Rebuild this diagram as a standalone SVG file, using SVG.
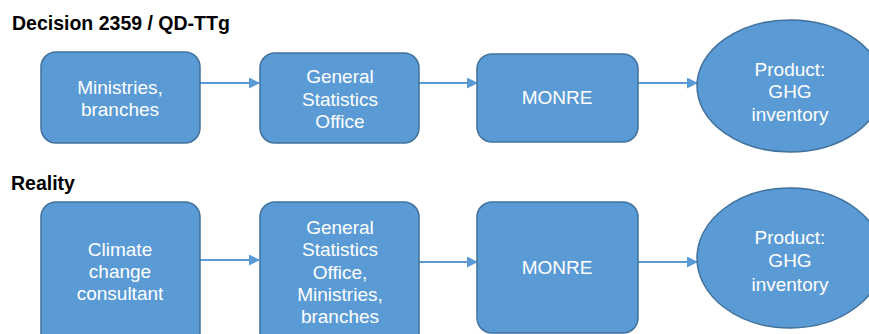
<svg xmlns="http://www.w3.org/2000/svg" width="869" height="334" viewBox="0 0 869 334">
<defs>
<style>
.box{fill:#5B9BD5;stroke:#41719C;stroke-width:1.5}
.t{fill:#fff;font-family:"Liberation Sans",Arial,sans-serif;font-size:19px;text-anchor:middle}
.h{fill:#000;font-family:"Liberation Sans",Arial,sans-serif;font-size:19.5px;font-weight:bold}
.c{stroke:#5B9BD5;stroke-width:2;fill:none;marker-end:url(#ah)}
</style>
<marker id="ah" markerWidth="11" markerHeight="11" refX="10" refY="5.5" orient="auto" markerUnits="userSpaceOnUse">
<path d="M0,0 L11,5.5 L0,11 z" fill="#5B9BD5"/>
</marker>
</defs>
<rect width="869" height="334" fill="#fff"/>
<text class="h" x="12" y="30">Decision 2359 / QD-TTg</text>
<text class="h" x="11" y="190">Reality</text>
<g id="connectors">
<line class="c" x1="200" y1="83" x2="259" y2="83"/>
<line class="c" x1="419" y1="83" x2="477" y2="83"/>
<line class="c" x1="638" y1="83" x2="697" y2="83"/>
<line class="c" x1="200" y1="260" x2="259" y2="260"/>
<line class="c" x1="419" y1="262" x2="477" y2="262"/>
<line class="c" x1="638" y1="262" x2="697" y2="262"/>
</g>
<g id="n1"><rect class="box" x="41" y="52" width="159" height="91" rx="15"/>
<text class="t" x="120" y="94">Ministries,</text><text class="t" x="120" y="116">branches</text></g>
<g id="n2"><rect class="box" x="260" y="53" width="159" height="90" rx="15"/>
<text class="t" x="340" y="83">General</text><text class="t" x="340" y="106">Statistics</text><text class="t" x="340" y="128">Office</text></g>
<g id="n3"><rect class="box" x="477" y="54" width="161" height="88" rx="15"/>
<text class="t" x="557" y="104">MONRE</text></g>
<g id="n4"><ellipse class="box" cx="790" cy="86" rx="93" ry="66"/>
<text class="t" x="790" y="76">Product:</text><text class="t" x="790" y="98">GHG</text><text class="t" x="790" y="121">inventory</text></g>
<g id="n5"><rect class="box" x="41" y="202" width="159" height="150" rx="15"/>
<text class="t" x="120" y="256">Climate</text><text class="t" x="120" y="278">change</text><text class="t" x="120" y="300">consultant</text></g>
<g id="n6"><rect class="box" x="260" y="202" width="159" height="150" rx="15"/>
<text class="t" x="340" y="234">General</text><text class="t" x="340" y="256">Statistics</text><text class="t" x="340" y="279">Office,</text><text class="t" x="340" y="301">Ministries,</text><text class="t" x="340" y="323">branches</text></g>
<g id="n7"><rect class="box" x="477" y="202" width="161" height="131" rx="15"/>
<text class="t" x="557" y="274">MONRE</text></g>
<g id="n8"><ellipse class="box" cx="790" cy="258" rx="93" ry="70"/>
<text class="t" x="790" y="244">Product:</text><text class="t" x="790" y="267">GHG</text><text class="t" x="790" y="291">inventory</text></g>
</svg>
